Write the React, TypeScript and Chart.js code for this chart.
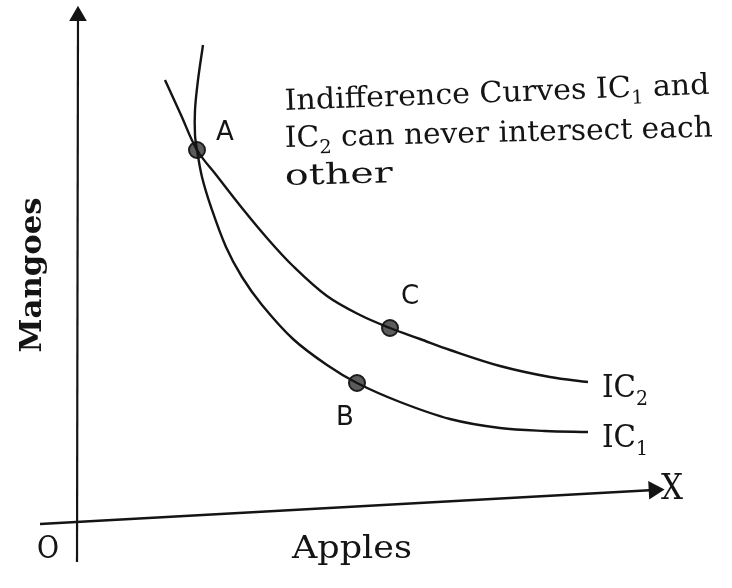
import React, { useEffect, useRef } from "react";
import { Chart, registerables } from "chart.js";

Chart.register(...registerables);

// Indifference curve IC1 (steeper, lower) – Apples (x) vs Mangoes (y)
const ic1Apples = [126, 121, 118, 118, 120, 125, 134, 149, 165, 185, 216, 250, 280, 323, 373, 423, 468, 511];
const ic1Mangoes = [477, 442, 412, 387, 372, 345, 315, 275, 245, 217, 183, 157, 139, 120, 103, 94, 91, 90];

// Indifference curve IC2 (upper)
const ic2Apples = [88, 104, 120, 140, 165, 190, 216, 250, 283, 313, 343, 373, 423, 473, 511];
const ic2Mangoes = [442, 407, 372, 346, 314, 284, 256, 226, 207, 194, 183, 172, 156, 145, 140];

// Marked combinations
const pointNames = ["A", "B", "C"];
const pointApples = [120, 280, 313];
const pointMangoes = [372, 139, 194];

// Axes (drawn as lines with arrow heads)
const yAxisApples = [0, 1];
const yAxisMangoes = [-40, 506];
const xAxisApples = [-37, 577];
const xAxisMangoes = [-2, 32];

const curveNames = ["IC", "IC"];
const curveSubs = ["1", "2"];

const noteLines = [
  [{ t: "Indifference Curves IC" }, { t: "1", sub: true }, { t: " and" }],
  [{ t: "IC" }, { t: "2", sub: true }, { t: " can never intersect each" }],
  [{ t: "other" }],
];

const xTitle = "Apples";
const yTitle = "Mangoes";

const zip = (xs: number[], ys: number[]) => xs.map((x, i) => ({ x, y: ys[i] }));

type Seg = { t: string; sub?: boolean };

function drawRich(
  ctx: CanvasRenderingContext2D,
  segs: Seg[],
  x0: number,
  base: number,
  font: string,
  size: number,
  subSize: number,
  subDrop: number,
  target: number | null,
  angle: number
) {
  ctx.save();
  ctx.translate(x0, base);
  ctx.rotate(angle);
  let total = 0;
  for (const s of segs) {
    ctx.font = `${s.sub ? subSize : size}px ${font}`;
    total += ctx.measureText(s.t).width;
  }
  const k = target ? target / total : 1;
  ctx.scale(k, 1);
  ctx.textAlign = "left";
  ctx.textBaseline = "alphabetic";
  let cx = 0;
  for (const s of segs) {
    ctx.font = `${s.sub ? subSize : size}px ${font}`;
    ctx.fillText(s.t, cx, s.sub ? subDrop : 0);
    cx += ctx.measureText(s.t).width;
  }
  ctx.restore();
}

function drawFit(
  ctx: CanvasRenderingContext2D,
  text: string,
  cx: number,
  cy: number,
  font: string,
  target: number,
  angle = 0
) {
  ctx.save();
  ctx.translate(cx, cy);
  ctx.rotate(angle);
  ctx.font = font;
  const w = ctx.measureText(text).width;
  ctx.scale(target / w, 1);
  ctx.textAlign = "center";
  ctx.textBaseline = "middle";
  ctx.fillText(text, 0, 0);
  ctx.restore();
}

const labelPlugin = {
  id: "diagramLabels",
  afterDatasetsDraw(chart: any) {
    const { ctx, scales } = chart;
    const px = (v: number) => scales.x.getPixelForValue(v);
    const py = (v: number) => scales.y.getPixelForValue(v);
    ctx.save();
    ctx.fillStyle = "#141414";
    const serif = "'DejaVu Serif', serif";

    // Point labels
    const offs = [
      [28, 17],
      [-12, -35],
      [20, 31],
    ];
    ctx.font = "26px 'DejaVu Sans', sans-serif";
    ctx.textAlign = "center";
    ctx.textBaseline = "middle";
    pointNames.forEach((n, i) => {
      ctx.fillText(n, px(pointApples[i] + offs[i][0]), py(pointMangoes[i] + offs[i][1]));
    });

    // Curve labels
    const curveEndX = [ic1Apples[ic1Apples.length - 1], ic2Apples[ic2Apples.length - 1]];
    const curveEndY = [ic1Mangoes[ic1Mangoes.length - 1], ic2Mangoes[ic2Mangoes.length - 1]];
    curveNames.forEach((n, i) => {
      drawRich(
        ctx,
        [{ t: n }, { t: curveSubs[i], sub: true }],
        px(curveEndX[i] + 14),
        py(curveEndY[i] - 15),
        serif,
        31,
        20,
        8,
        46,
        0
      );
    });

    // Note text
    const noteW = [425, 428, 108];
    const noteAng = [-2.2, -1.4, -1.5];
    const noteBase = [412, 375, 337];
    noteLines.forEach((segs, i) => {
      drawRich(
        ctx,
        segs as Seg[],
        px(208),
        py(noteBase[i]),
        serif,
        29,
        19,
        7,
        noteW[i],
        (noteAng[i] * Math.PI) / 180
      );
    });

    // Axis labels
    drawFit(ctx, "X", px(595), py(32), `36px ${serif}`, 22);
    drawFit(ctx, "O", px(-29), py(-28), `32px ${serif}`, 22);
    drawFit(ctx, xTitle, px(275), py(-28), `31px ${serif}`, 120);
    drawFit(ctx, yTitle, px(-44), py(247), `bold 29px ${serif}`, 155, -Math.PI / 2);
    ctx.restore();
  },
};

export default function App() {
  const ref = useRef<HTMLCanvasElement>(null);
  useEffect(() => {
    const canvas = ref.current!;
    const line = "#141414";
    const chart = new Chart(canvas, {
      type: "scatter",
      data: {
        datasets: [
          {
            data: zip(yAxisApples, yAxisMangoes),
            showLine: true,
            borderColor: line,
            borderWidth: 2.2,
            pointStyle: "triangle",
            pointRadius: [0, 8],
            pointRotation: 0,
            backgroundColor: line,
            pointBorderColor: line,
          },
          {
            data: zip(xAxisApples, xAxisMangoes),
            showLine: true,
            borderColor: line,
            borderWidth: 2.6,
            pointStyle: "triangle",
            pointRadius: [0, 8],
            pointRotation: 87,
            backgroundColor: line,
            pointBorderColor: line,
          },
          {
            data: zip(ic1Apples, ic1Mangoes),
            showLine: true,
            borderColor: line,
            borderWidth: 2.4,
            pointRadius: 0,
            tension: 0.35,
          },
          {
            data: zip(ic2Apples, ic2Mangoes),
            showLine: true,
            borderColor: line,
            borderWidth: 2.4,
            pointRadius: 0,
            tension: 0.35,
          },
          {
            data: zip(pointApples, pointMangoes),
            showLine: false,
            pointRadius: 8,
            backgroundColor: "#5c5c5c",
            borderColor: "#1c1c1c",
            borderWidth: 2,
          },
        ],
      },
      options: {
        responsive: false,
        animation: false,
        layout: { padding: 0, autoPadding: false },
        plugins: { legend: { display: false }, tooltip: { enabled: false } },
        scales: {
          x: { type: "linear", min: -77, max: 655, display: false },
          y: { type: "linear", min: -66, max: 522, display: false },
        },
      },
      plugins: [labelPlugin],
    });
    return () => chart.destroy();
  }, []);
  return (
    <div style={{ position: "fixed", left: 0, top: 0, width: 732, height: 588, background: "#fff" }}>
      <canvas ref={ref} width={732} height={588} style={{ display: "block" }} />
    </div>
  );
}
